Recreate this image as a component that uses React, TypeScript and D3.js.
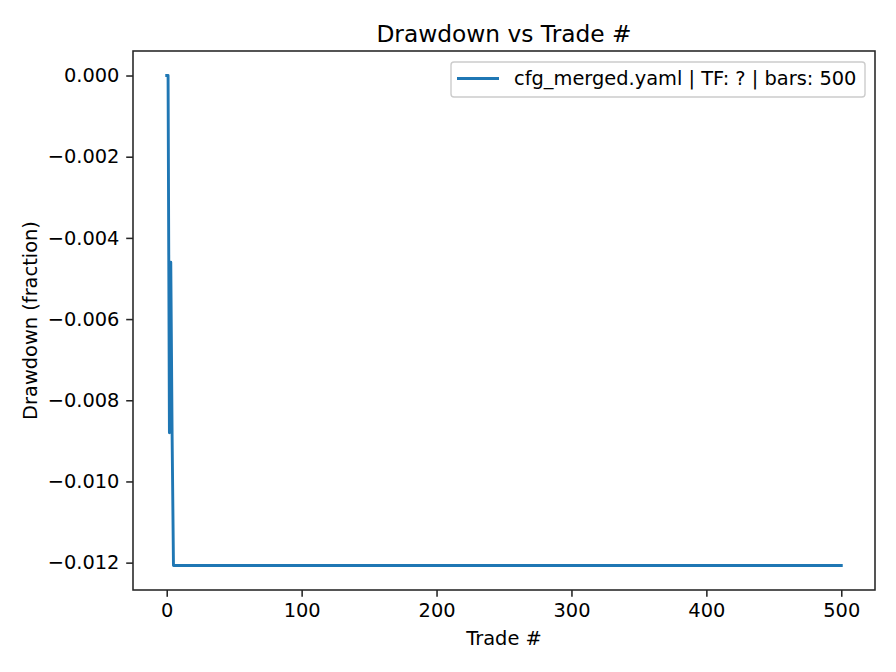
import { useEffect, useRef } from "react";
import * as d3 from "d3";

// trade index and drawdown (flat after trade 5)
const trades = [0, 1, 2, 3, 4, 5, 500];
const drawdown = [0, 0, -0.0088, -0.0046, -0.0089, -0.01207, -0.01207];
const xTicks = [0, 100, 200, 300, 400, 500];
const yTicks = [0, -0.002, -0.004, -0.006, -0.008, -0.01, -0.012];
const legendLabel = "cfg_merged.yaml | TF: ? | bars: 500";

const App = () => {
  const svgRef = useRef<SVGSVGElement>(null);

  useEffect(() => {
    const svg = d3.select(svgRef.current);
    const width = 896;
    const height = 672;
    const margin = { top: 51, right: 21, bottom: 82, left: 133 };
    const font = "DejaVu Sans, sans-serif";
    const fs = 19.4;
    const dark = "#262626";

    svg.selectAll("*").remove();

    const x = d3
      .scaleLinear()
      .domain([-25, 525])
      .range([margin.left, width - margin.right]);

    const y = d3
      .scaleLinear()
      .domain([-0.012674, 0.000604])
      .range([height - margin.bottom, margin.top]);

    // Eixo X
    const gx = svg
      .append("g")
      .attr("transform", `translate(0,${height - margin.bottom})`)
      .call(d3.axisBottom(x).tickValues(xTicks).tickFormat(d3.format("d")).tickSizeOuter(0).tickSize(6.8).tickPadding(6.8));
    gx.select(".domain").remove();
    gx.selectAll("line").attr("stroke", dark).attr("stroke-width", 1.56);
    gx.selectAll("text").attr("font-family", font).attr("font-size", fs).attr("fill", "#000");

    // Eixo Y
    const gy = svg
      .append("g")
      .attr("transform", `translate(${margin.left},0)`)
      .call(
        d3
          .axisLeft(y)
          .tickValues(yTicks)
          .tickFormat((d) => d3.format(".3f")(d as number).replace("-", "\u2212"))
          .tickSizeOuter(0)
          .tickSize(6.8)
          .tickPadding(6.8)
      );
    gy.select(".domain").remove();
    gy.selectAll("line").attr("stroke", dark).attr("stroke-width", 1.56);
    gy.selectAll("text").attr("font-family", font).attr("font-size", fs).attr("fill", "#000");

    // Linha de drawdown
    const pts = trades.map((t, i) => [t, drawdown[i]] as [number, number]);
    svg
      .append("path")
      .datum(pts)
      .attr("fill", "none")
      .attr("stroke", "#1f77b4")
      .attr("stroke-width", 2.9)
      .attr("stroke-linejoin", "round")
      .attr("stroke-linecap", "square")
      .attr(
        "d",
        d3
          .line<[number, number]>()
          .x((d) => x(d[0]))
          .y((d) => y(d[1]))
      );

    // Moldura
    svg
      .append("rect")
      .attr("x", margin.left)
      .attr("y", margin.top)
      .attr("width", width - margin.left - margin.right)
      .attr("height", height - margin.top - margin.bottom)
      .attr("fill", "none")
      .attr("stroke", dark)
      .attr("stroke-width", 1.56);

    // Titulo e rotulos
    svg
      .append("text")
      .attr("x", (margin.left + width - margin.right) / 2)
      .attr("y", 42)
      .attr("text-anchor", "middle")
      .attr("font-family", font)
      .attr("font-size", 23.3)
      .text("Drawdown vs Trade #");

    svg
      .append("text")
      .attr("x", (margin.left + width - margin.right) / 2)
      .attr("y", 645)
      .attr("text-anchor", "middle")
      .attr("font-family", font)
      .attr("font-size", fs)
      .text("Trade #");

    svg
      .append("text")
      .attr("transform", `translate(37,${(margin.top + height - margin.bottom) / 2}) rotate(-90)`)
      .attr("text-anchor", "middle")
      .attr("font-family", font)
      .attr("font-size", fs)
      .text("Drawdown (fraction)");

    // Legenda
    const lg = svg.append("g");
    lg.append("rect")
      .attr("x", 451)
      .attr("y", 62)
      .attr("width", 414)
      .attr("height", 35)
      .attr("rx", 3)
      .attr("fill", "#fff")
      .attr("fill-opacity", 0.8)
      .attr("stroke", "#cccccc")
      .attr("stroke-width", 1.4);
    lg.append("line")
      .attr("x1", 457)
      .attr("x2", 499)
      .attr("y1", 78.5)
      .attr("y2", 78.5)
      .attr("stroke", "#1f77b4")
      .attr("stroke-width", 2.9);
    lg.append("text")
      .attr("x", 514)
      .attr("y", 85)
      .attr("font-family", font)
      .attr("font-size", fs)
      .text(legendLabel);
  }, []);

  return (
    <svg
      ref={svgRef}
      width={896}
      height={672}
      style={{ position: "absolute", left: 0, top: 0, display: "block", background: "#fff" }}
    ></svg>
  );
};

export default App;
